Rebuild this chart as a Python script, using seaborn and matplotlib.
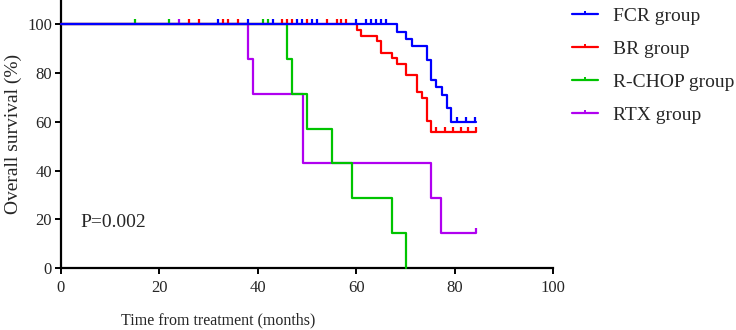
import numpy as np
import pandas as pd
import matplotlib
matplotlib.use("Agg")
import matplotlib.pyplot as plt
from matplotlib.lines import Line2D
import seaborn as sns

# ---------------- data ----------------
groups = ["FCR group", "BR group", "R-CHOP group", "RTX group"]
colors = ["#0000FF", "#FF0000", "#00C400", "#B000F0"]

fcr_t = [0, 68.2, 70.1, 71.3, 74.3, 75.3, 76.3, 77.4, 78.4, 79.3, 84.3]
fcr_s = [100, 97.0, 94.1, 91.2, 85.5, 77.0, 74.2, 71.2, 65.5, 59.8, 59.8]
fcr_cens_t = [32, 38, 43, 48, 49, 51, 52, 60, 62, 63, 64, 65, 66, 80.4, 82.3, 84.2]
fcr_cens_s = [100] * 13 + [59.8] * 3

br_t = [0, 60.1, 61.0, 64.2, 65.1, 67.2, 68.2, 70.2, 72.3, 73.3, 74.3, 75.2, 84.3]
br_s = [100, 97.7, 95.3, 93.0, 88.4, 86.0, 83.7, 79.1, 72.1, 69.8, 60.5, 55.8, 55.8]
br_cens_t = [26, 28, 33, 34, 36, 45, 46, 47, 50, 54, 56, 57, 58,
             76.2, 78.0, 79.7, 81.4, 82.8, 84.3]
br_cens_s = [100] * 13 + [55.8] * 6

rchop_t = [0, 46.0, 47.0, 50.1, 55.1, 59.2, 67.2, 70.2]
rchop_s = [100, 85.7, 71.4, 57.1, 42.9, 28.6, 14.3, 0]
rchop_cens_t = [15, 22, 41, 42]
rchop_cens_s = [100, 100, 100, 100]

rtx_t = [0, 38.1, 39.0, 49.1, 75.2, 77.2, 84.3]
rtx_s = [100, 85.7, 71.4, 42.9, 28.6, 14.3, 14.3]
rtx_cens_t = [24, 84.3]
rtx_cens_s = [100, 14.3]

x_ticks = [0, 20, 40, 60, 80, 100]
y_ticks = [0, 20, 40, 60, 80, 100]
p_text = "P=0.002"
x_label = "Time from treatment (months)"
y_label = "Overall survival (%)"

# ---------------- style ----------------
sns.set_style("ticks")
plt.rcParams["font.family"] = ["Liberation Serif", "DejaVu Serif"]

fig = plt.figure(figsize=(7.36, 3.30), dpi=100)
ax = fig.add_axes([61 / 736, 1 - 268 / 330, 492 / 736, 268 / 330 * 1.0])

curves = {
    "FCR group": (fcr_t, fcr_s, fcr_cens_t, fcr_cens_s),
    "BR group": (br_t, br_s, br_cens_t, br_cens_s),
    "R-CHOP group": (rchop_t, rchop_s, rchop_cens_t, rchop_cens_s),
    "RTX group": (rtx_t, rtx_s, rtx_cens_t, rtx_cens_s),
}
color_of = dict(zip(groups, colors))
tick_marker = [(0, 0), (0, 1)]
lw = 1.6
ms = 6.5

# draw order: RTX, R-CHOP, BR, FCR (FCR on top)
for z, g in enumerate(["RTX group", "R-CHOP group", "BR group", "FCR group"]):
    t, s, ct, cs = curves[g]
    df = pd.DataFrame({"t": t, "s": s})
    sns.lineplot(data=df, x="t", y="s", ax=ax, color=color_of[g], lw=lw,
                 drawstyle="steps-post", estimator=None, sort=True,
                 legend=False, zorder=3 + z, clip_on=False)
    ax.plot(ct, cs, linestyle="none", marker=tick_marker, markersize=ms,
            markeredgewidth=1.6, color=color_of[g], zorder=3 + z, clip_on=False)

ax.set_xlim(0, 100)
ax.set_ylim(0, 110)
ax.set_xticks(x_ticks)
ax.set_yticks(y_ticks)
ax.tick_params(axis="x", direction="out", length=4.5, width=1.4, labelsize=12, pad=4, color="black")
ax.tick_params(axis="y", direction="out", length=4.5, width=1.4, labelsize=12, pad=2, color="black")
for side in ["top", "right"]:
    ax.spines[side].set_visible(False)
for side in ["left", "bottom"]:
    ax.spines[side].set_linewidth(1.6)
    ax.spines[side].set_color("black")

ax.set_xlabel(x_label, fontsize=11.5)
ax.xaxis.label.set_va("center")
ax.xaxis.set_label_coords((218.5 - 61) / 492, (268 - 320) / 268)
ax.set_ylabel(y_label, fontsize=14)
ax.yaxis.label.set_va("center")
ax.yaxis.set_label_coords((13 - 61) / 492, 0.5)

ax.text(4.0, 18.5, p_text, fontsize=14, ha="left", va="center")

handles = [Line2D([], [], color=c, lw=lw, marker=tick_marker, markersize=5,
                  markeredgewidth=1.4) for c in colors]
fig.legend(handles, groups, loc="upper left", bbox_to_anchor=(572 / 736, 1 - 7 / 330),
           frameon=False, fontsize=14, numpoints=1, handlelength=1.35,
           handletextpad=0.75, labelspacing=0.79, borderpad=0, borderaxespad=0)

fig.savefig("out.png", dpi=100)
